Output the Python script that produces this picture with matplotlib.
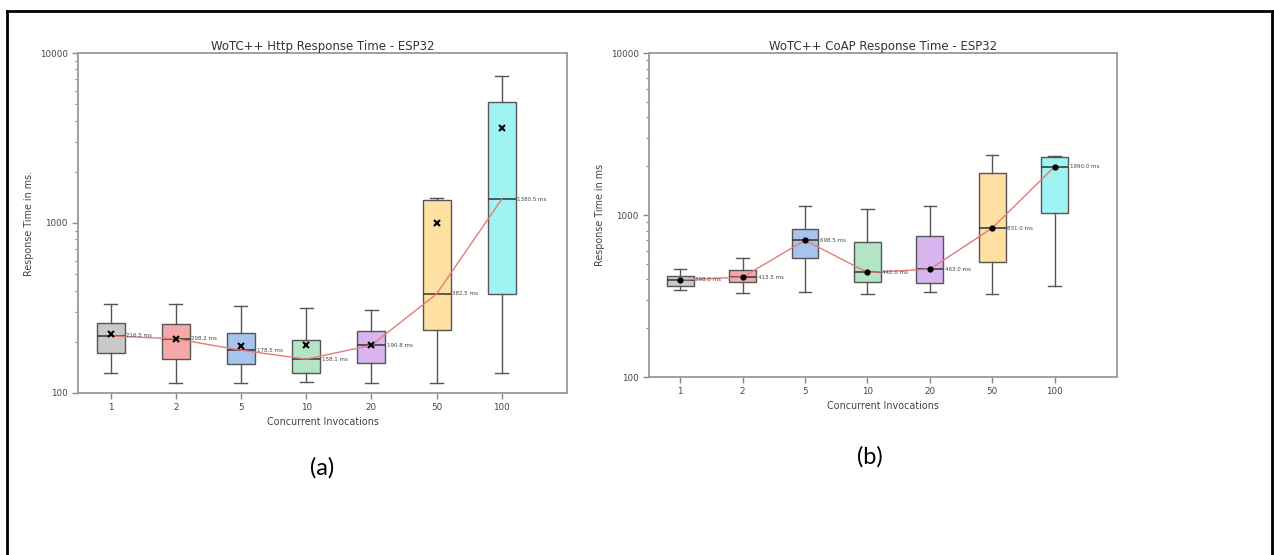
import numpy as np
import matplotlib
matplotlib.use("Agg")
import matplotlib.pyplot as plt
from matplotlib.lines import Line2D
from matplotlib.ticker import LogLocator, NullFormatter

# %% Daten

invocations = ["1", "2", "5", "10", "20", "50", "100"]
box_colors = ["#c9c9c9", "#f3a9a9", "#a9c3ef", "#b3e4c6", "#d9b5ef", "#fde0a2", "#9ff3f3"]

# HTTP
http_median = [216.5, 208.2, 178.5, 158.1, 190.8, 382.5, 1380.5]
http_mean = [222, 208, 189, 192, 192, 1000, 3620]
http_q1 = [172, 158, 148, 131, 150, 235, 382]
http_q3 = [258, 255, 225, 205, 232, 1365, 5150]
http_lo = [131, 114, 114, 116, 114, 114, 131]
http_hi = [334, 334, 325, 316, 308, 1403, 7320]

# CoAP
coap_median = [398.0, 413.5, 698.5, 442.0, 463.0, 831.0, 1990.0]
coap_mean = [398, 414, 698, 442, 463, 831, 1990]
coap_q1 = [365, 386, 543, 386, 380, 513, 1028]
coap_q3 = [420, 457, 820, 681, 742, 1817, 2280]
coap_lo = [344, 330, 335, 325, 335, 325, 365]
coap_hi = [464, 543, 1137, 1089, 1137, 2345, 2310]


# %% Hilfsfunktion

def panel(ax, title, ylabel, med, mean, q1, q3, lo, hi, marker, msize):
    pos = np.arange(1, len(invocations) + 1)
    stats = [dict(med=m, q1=a, q3=b, whislo=l, whishi=h, fliers=[])
             for m, a, b, l, h in zip(med, q1, q3, lo, hi)]
    bp = ax.bxp(stats, positions=pos, widths=0.43, patch_artist=True,
                showfliers=False, capwidths=0.2,
                boxprops=dict(edgecolor="#555555", linewidth=1.0),
                medianprops=dict(color="#333333", linewidth=1.1),
                whiskerprops=dict(color="#555555", linewidth=1.0),
                capprops=dict(color="#555555", linewidth=1.0))
    for patch, c in zip(bp["boxes"], box_colors):
        patch.set_facecolor(c)

    ax.plot(pos, med, color="#e57a7a", lw=1.0, zorder=3)
    ax.plot(pos, mean, marker, color="black", ms=msize, mew=1.5, zorder=4)
    for p, m in zip(pos, med):
        ax.text(p + 0.24, m, f"{m:.1f} ms", fontsize=4, color="#444444",
                va="center", ha="left")

    ax.set_yscale("log")
    ax.set_ylim(100, 10000)
    ax.set_xlim(0.5, 8.0)
    ax.set_yticks([100, 1000, 10000], ["100", "1000", "10000"])
    ax.yaxis.set_minor_locator(LogLocator(base=10, subs=np.arange(2, 10)))
    ax.yaxis.set_minor_formatter(NullFormatter())
    ax.set_xticks(pos, invocations)
    ax.tick_params(axis="both", which="major", labelsize=6.3, colors="#888888",
                   labelcolor="#444444", length=4, width=1)
    ax.tick_params(axis="y", which="minor", colors="#888888", length=2, width=0.8)
    for s in ax.spines.values():
        s.set_color("#999999")
        s.set_linewidth(1.3)

    ax.set_title(title, fontsize=8.5, color="#333333", pad=2)
    ax.set_xlabel("Concurrent Invocations", fontsize=6.9, color="#444444", labelpad=3)
    ax.set_ylabel(ylabel, fontsize=6.9, color="#444444", labelpad=4)


# %% Plot

fig = plt.figure(figsize=(12.74, 5.55), dpi=100)

ax1 = fig.add_axes([0.0612, 0.2919, 0.3838, 0.6126])
panel(ax1, "WoTC++ Http Response Time - ESP32", "Response Time in ms.",
      http_median, http_mean, http_q1, http_q3, http_lo, http_hi, "x", 4)

ax2 = fig.add_axes([0.5094, 0.3207, 0.3674, 0.5838])
panel(ax2, "WoTC++ CoAP Response Time - ESP32", "Response Time in ms",
      coap_median, coap_mean, coap_q1, coap_q3, coap_lo, coap_hi, "o", 3)

fig.text(322 / 1274, 1 - 468 / 555, "(a)", fontsize=17, family="Lato",
         ha="center", va="center")
fig.text(870 / 1274, 1 - 457 / 555, "(b)", fontsize=17, family="Lato",
         ha="center", va="center")

# Rahmen um die Abbildung
x0, x1, yt = 7 / 1274, 1272 / 1274, 1 - 11 / 555
for xs, ys in [([x0, x1], [yt, yt]), ([x0, x0], [0, yt]), ([x1, x1], [0, yt])]:
    fig.add_artist(Line2D(xs, ys, color="black", lw=2, transform=fig.transFigure))

fig.savefig("out.png", dpi=100)
